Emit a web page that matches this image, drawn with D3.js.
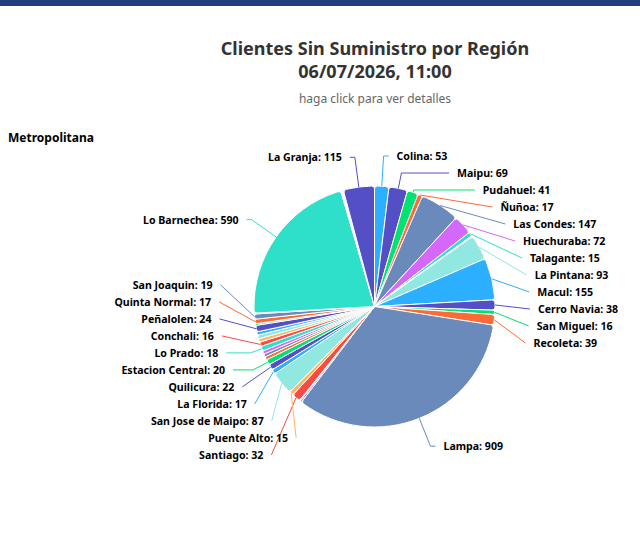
<!DOCTYPE html>
<html>
<head>
<meta charset="utf-8">
<script src="https://cdn.jsdelivr.net/npm/d3@7"></script>
<style>
  body { margin: 0; background: #fff; }
  svg { font-family: "Noto Sans", "Open Sans", sans-serif; }
  .title { font-size: 18px; font-weight: bold; fill: #333; text-anchor: middle; }
  .subtitle { font-size: 12px; fill: #666; text-anchor: middle; }
  .region { font-size: 12px; font-weight: bold; fill: #000; }
  .label { font-size: 10.6px; font-weight: bold; fill: #000; }
</style>
</head>
<body>
<svg id="chart" width="640" height="540"></svg>
<script>
// comunas in drawing order (clockwise from the top); small ones carry no label
const comunas = [
  "Colina", "Maipu", "Pudahuel", "Ñuñoa", "Las Condes", "Huechuraba", "Talagante",
  "Renca", "Independencia", "La Pintana", "Macul", "Cerro Navia", "San Miguel",
  "Recoleta", "Lampa", "Providencia", "Vitacura", "Santiago", "Puente Alto",
  "San Jose de Maipo", "La Florida", "Quilicura", "Estacion Central", "El Bosque",
  "La Cisterna", "San Bernardo", "Lo Prado", "Conchali", "Pedro Aguirre Cerda",
  "Lo Espejo", "San Ramon", "Peñalolen", "La Reina", "Quinta Normal", "San Joaquin",
  "Cerrillos", "Lo Barnechea", "Buin", "Paine", "Peñaflor", "Padre Hurtado", "La Granja"
];
const clientes = [
  53, 69, 41, 17, 147, 72, 15,
  2, 2, 93, 155, 38, 16,
  39, 909, 6, 3, 32, 15,
  87, 17, 22, 20, 12,
  11, 12, 18, 16, 13,
  14, 12, 24, 6, 17, 19,
  3, 590, 2, 3, 2, 3, 115
];
const palette = ["#2caffe", "#544fc5", "#00e272", "#fe6a35", "#6b8abc",
                 "#d568fb", "#2ee0ca", "#fa4b42", "#feb56a", "#91e8e1"];
const minLabelValue = 15;

const W = 640, H = 540;
const cx = 374.5, cy = 306.5, R = 120.5;
const dist = 30, pad = 5, lineH = 17;
const plotTop = 147.5, plotBottom = 465.5;

const svg = d3.select("#chart");
svg.append("rect").attr("x", 0).attr("y", 0).attr("width", W).attr("height", 6).attr("fill", "#213d7d");

svg.append("text").attr("class", "title").attr("x", 375).attr("y", 48)
  .attr("dominant-baseline", "central").text("Clientes Sin Suministro por Región");
svg.append("text").attr("class", "title").attr("x", 375).attr("y", 71)
  .attr("dominant-baseline", "central").text("06/07/2026, 11:00");
svg.append("text").attr("class", "subtitle").attr("x", 375).attr("y", 98)
  .attr("dominant-baseline", "central").text("haga click para ver detalles");
svg.append("text").attr("class", "region").attr("x", 8).attr("y", 137)
  .attr("dominant-baseline", "central").text("Metropolitana");

const data = comunas.map((name, i) => ({ name: name, value: clientes[i] }));
const color = d3.scaleOrdinal().domain(d3.range(data.length)).range(palette);
const pie = d3.pie().value(d => d.value).sort(null);
const arcs = pie(data);
const arc = d3.arc().innerRadius(0).outerRadius(R).cornerRadius(3);

const g = svg.append("g").attr("transform", `translate(${cx},${cy})`);
g.selectAll("path.slice").data(arcs).join("path")
  .attr("class", "slice")
  .attr("d", arc)
  .attr("fill", d => color(d.index))
  .attr("stroke", "#fff")
  .attr("stroke-width", 1);

// label placement, one side at a time
const rr = R + dist;
const labels = arcs.filter(d => d.data.value >= minLabelValue).map(d => {
  const mid = (d.startAngle + d.endAngle) / 2;
  return { arc: d, mid: mid, left: mid > Math.PI, target: cy - Math.cos(mid) * rr };
});

function distribute(items) {
  items.sort((a, b) => a.target - b.target);
  let groups = items.map(it => ({ items: [it] }));
  let overlapping = true;
  while (overlapping) {
    groups.forEach(gr => {
      const ts = gr.items.map(it => it.target);
      gr.size = gr.items.length * lineH;
      const c = (d3.min(ts) + d3.max(ts)) / 2;
      gr.pos = Math.max(plotTop, Math.min(plotBottom - gr.size, c - gr.size / 2));
    });
    overlapping = false;
    for (let k = groups.length - 1; k > 0; k--) {
      if (groups[k - 1].pos + groups[k - 1].size > groups[k].pos) {
        groups[k - 1].items = groups[k - 1].items.concat(groups[k].items);
        groups.splice(k, 1);
        overlapping = true;
      }
    }
  }
  groups.forEach(gr => gr.items.forEach((it, j) => { it.y = gr.pos + lineH * (j + 0.5); }));
}
distribute(labels.filter(l => !l.left));
distribute(labels.filter(l => l.left));

labels.forEach(l => {
  // near the very top / bottom keep the natural x
  const yForX = Math.abs(l.y - cy) > rr - 10 ? l.target : l.y;
  const dy = Math.max(-rr, Math.min(rr, yForX - cy));
  const dx = Math.sqrt(rr * rr - dy * dy) + pad;
  l.x = l.left ? cx - dx : cx + dx;
  const touch = [cx + R * Math.sin(l.mid), cy - R * Math.cos(l.mid)];
  const pts = [[l.x, l.y]];
  const t = (cy - l.y) / Math.cos(l.mid);
  const crookX = cx + t * Math.sin(l.mid);
  const useCrook = t > 0 && (l.left ? (crookX >= l.x && crookX <= touch[0])
                                     : (crookX <= l.x && crookX >= touch[0]));
  if (useCrook) pts.push([crookX, l.y]);
  pts.push(touch);
  l.points = pts;
});

const line = d3.line();
svg.selectAll("path.connector").data(labels).join("path")
  .attr("class", "connector")
  .attr("d", l => line(l.points))
  .attr("fill", "none")
  .attr("stroke", l => color(l.arc.index))
  .attr("stroke-width", 1);

svg.selectAll("text.label").data(labels).join("text")
  .attr("class", "label")
  .attr("x", l => l.left ? l.x - 8 : l.x + 8)
  .attr("y", l => l.y)
  .attr("dominant-baseline", "central")
  .attr("text-anchor", l => l.left ? "end" : "start")
  .text(l => `${l.arc.data.name}: ${l.arc.data.value}`);
</script>
</body>
</html>
